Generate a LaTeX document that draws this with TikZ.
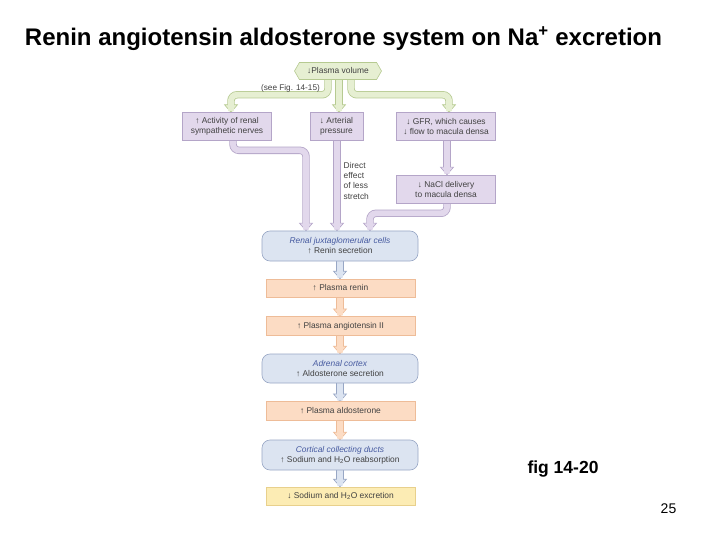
\documentclass[tikz,border=0pt]{standalone}
\usepackage{fontspec}
\setmainfont{Liberation Sans}
\usetikzlibrary{calc,shapes.symbols}
\pgfdeclarelayer{paper}
\pgfdeclarelayer{bg}
\pgfsetlayers{paper,bg,main}
\definecolor{gfill}{RGB}{230,239,210}
\definecolor{gline}{RGB}{182,202,145}
\definecolor{pfill}{RGB}{226,216,236}
\definecolor{pline}{RGB}{180,165,200}
\definecolor{bfill}{RGB}{220,228,241}
\definecolor{bline}{RGB}{152,167,197}
\definecolor{ofill}{RGB}{252,220,196}
\definecolor{oline}{RGB}{238,188,152}
\definecolor{yfill}{RGB}{252,236,180}
\definecolor{yline}{RGB}{232,208,140}
\definecolor{txt}{RGB}{65,65,65}
\definecolor{itblue}{RGB}{70,90,160}
\newcommand\lbl{\fontsize{8.4}{10}\selectfont}
\newcommand\pipe[4]{%
  \coordinate (pe) at ($(#4)+(0,-7)$);
  \begin{pgfonlayer}{bg}
    \draw[line width=7.4pt,draw=#2,rounded corners=6pt] #3;
    \filldraw[fill=#1,draw=#2,line width=0.6pt] ($(#4)+(-6.5,-7.5)$) -- (#4) -- ($(#4)+(6.5,-7.5)$) -- cycle;
    \draw[line width=5.8pt,draw=#1,rounded corners=6pt] #3 -- ($(#4)+(0,-5)$);
  \end{pgfonlayer}}
\tikzset{
  bx/.style={draw, line width=0.6pt, inner sep=1pt, align=center, text=txt, font=\lbl},
  pbx/.style={bx, fill=pfill, draw=pline},
  bbx/.style={bx, fill=bfill, draw=bline, rounded corners=8pt},
  obx/.style={bx, fill=ofill, draw=oline},
  ybx/.style={bx, fill=yfill, draw=yline}
}
\begin{document}
\begin{tikzpicture}[x=1pt,y=-1pt]
\useasboundingbox (0,0) rectangle (720,540);
\begin{pgfonlayer}{paper}
\fill[white] (0,0) rectangle (720,540);
\end{pgfonlayer}
% title and side texts
\node[anchor=base, font=\fontsize{24}{28}\selectfont\bfseries, inner sep=0pt] (title) at (343.5,46) {Renin angiotensin aldosterone system on Na\textsuperscript{+} excretion};
\node[anchor=base, font=\fontsize{17.5}{20}\selectfont\bfseries, inner sep=0pt] (fig) at (563,473) {fig 14-20};
\node[anchor=base, font=\fontsize{14}{16}\selectfont, inner sep=0pt] (pg) at (668.5,513) {25};
% nodes
\node[signal, signal to=east and west, signal pointer angle=120, fill=gfill, draw=gline, line width=0.6pt, minimum width=87pt, minimum height=17pt, inner sep=1pt, font=\lbl, text=txt] (pv) at (338,71) {↓Plasma volume};
\node[font=\fontsize{8.2}{9.5}\selectfont, text=txt, anchor=east, inner sep=0pt] (see) at (320,88) {(see Fig. 14-15)};
\node[pbx, minimum width=89pt, minimum height=27.5pt] (b1) at (227,126.3) {↑ Activity of renal\\sympathetic nerves};
\node[pbx, minimum width=53pt, minimum height=27.5pt] (b2) at (336.5,126.3) {↓ Arterial\\pressure};
\node[pbx, minimum width=99pt, minimum height=27.5pt] (b3) at (446,126.3) {↓ GFR, which causes\\↓ flow to macula densa};
\node[pbx, minimum width=99pt, minimum height=28pt] (b4) at (446,189) {↓ NaCl delivery\\to macula densa};
\node[font=\fontsize{8.4}{10.3}\selectfont, text=txt, align=left, anchor=north west, inner sep=0pt] (de) at (343.5,162) {Direct\\effect\\of less\\stretch};
\node[bbx, minimum width=156pt, minimum height=30pt] (jg) at (340,246) {\textcolor{itblue}{\itshape Renal juxtaglomerular cells}\\↑ Renin secretion};
\node[obx, minimum width=149pt, minimum height=18pt] (renin) at (340.5,288) {↑ Plasma renin};
\node[obx, minimum width=149pt, minimum height=18.5pt] (ang) at (340.5,326) {↑ Plasma angiotensin II};
\node[bbx, minimum width=156pt, minimum height=29pt] (adr) at (340,368.5) {\textcolor{itblue}{\itshape Adrenal cortex}\\↑ Aldosterone secretion};
\node[obx, minimum width=149pt, minimum height=18.5pt] (ald) at (340.5,411) {↑ Plasma aldosterone};
\node[bbx, minimum width=156pt, minimum height=30pt] (ccd) at (340,455) {\textcolor{itblue}{\itshape Cortical collecting ducts}\\↑ Sodium and H\textsubscript{2}O reabsorption};
\node[ybx, minimum width=149pt, minimum height=18pt] (exc) at (340.5,496) {↓ Sodium and H\textsubscript{2}O excretion};
% green pipes
\coordinate (g1) at ($(pv.south)+(-10,-4)$);
\coordinate (g2) at ($(pv.south)+(1,-4)$);
\coordinate (g3) at ($(pv.south)+(13,-4)$);
\coordinate (tb1) at ($(b1.north)+(4,0)$);
\coordinate (tb2) at (b2.north -| g2);
\coordinate (tb3) at ($(b3.north)+(3,0)$);
\pipe{gfill}{gline}{(g1) -- ++(0,19) -| (pe)}{tb1}
\pipe{gfill}{gline}{(g2) -- (pe)}{tb2}
\pipe{gfill}{gline}{(g3) -- ++(0,19) -| (pe)}{tb3}
% lavender pipes
\coordinate (s1) at ($(b1.south)+(6,-3)$);
\coordinate (t1) at ($(jg.north)+(-34,0)$);
\pipe{pfill}{pline}{(s1) -- ++(0,13) -| (pe)}{t1}
\coordinate (s2) at ($(b2.south)+(0.5,-3)$);
\coordinate (t2) at (jg.north -| s2);
\pipe{pfill}{pline}{(s2) -- (pe)}{t2}
\coordinate (s3) at ($(b3.south)+(1,-3)$);
\coordinate (t3) at (b4.north -| s3);
\pipe{pfill}{pline}{(s3) -- (pe)}{t3}
\coordinate (s4) at ($(b4.south)+(1,-3)$);
\coordinate (t4) at ($(jg.north)+(30,0)$);
\pipe{pfill}{pline}{(s4) -- ++(0,13) -| (pe)}{t4}
% chain pipes
\coordinate (c1) at ($(jg.south)+(0,-3)$);
\coordinate (d1) at (renin.north -| c1);
\pipe{bfill}{bline}{(c1) -- (pe)}{d1}
\coordinate (c2) at ($(renin.south)+(-0.5,-3)$);
\coordinate (d2) at (ang.north -| c2);
\pipe{ofill}{oline}{(c2) -- (pe)}{d2}
\coordinate (c3) at ($(ang.south)+(-0.5,-3)$);
\coordinate (d3) at (adr.north -| c3);
\pipe{ofill}{oline}{(c3) -- (pe)}{d3}
\coordinate (c4) at ($(adr.south)+(0,-3)$);
\coordinate (d4) at (ald.north -| c4);
\pipe{bfill}{bline}{(c4) -- (pe)}{d4}
\coordinate (c5) at ($(ald.south)+(-0.5,-3)$);
\coordinate (d5) at (ccd.north -| c5);
\pipe{ofill}{oline}{(c5) -- (pe)}{d5}
\coordinate (c6) at ($(ccd.south)+(0,-3)$);
\coordinate (d6) at (exc.north -| c6);
\pipe{bfill}{bline}{(c6) -- (pe)}{d6}
\end{tikzpicture}
\end{document}
